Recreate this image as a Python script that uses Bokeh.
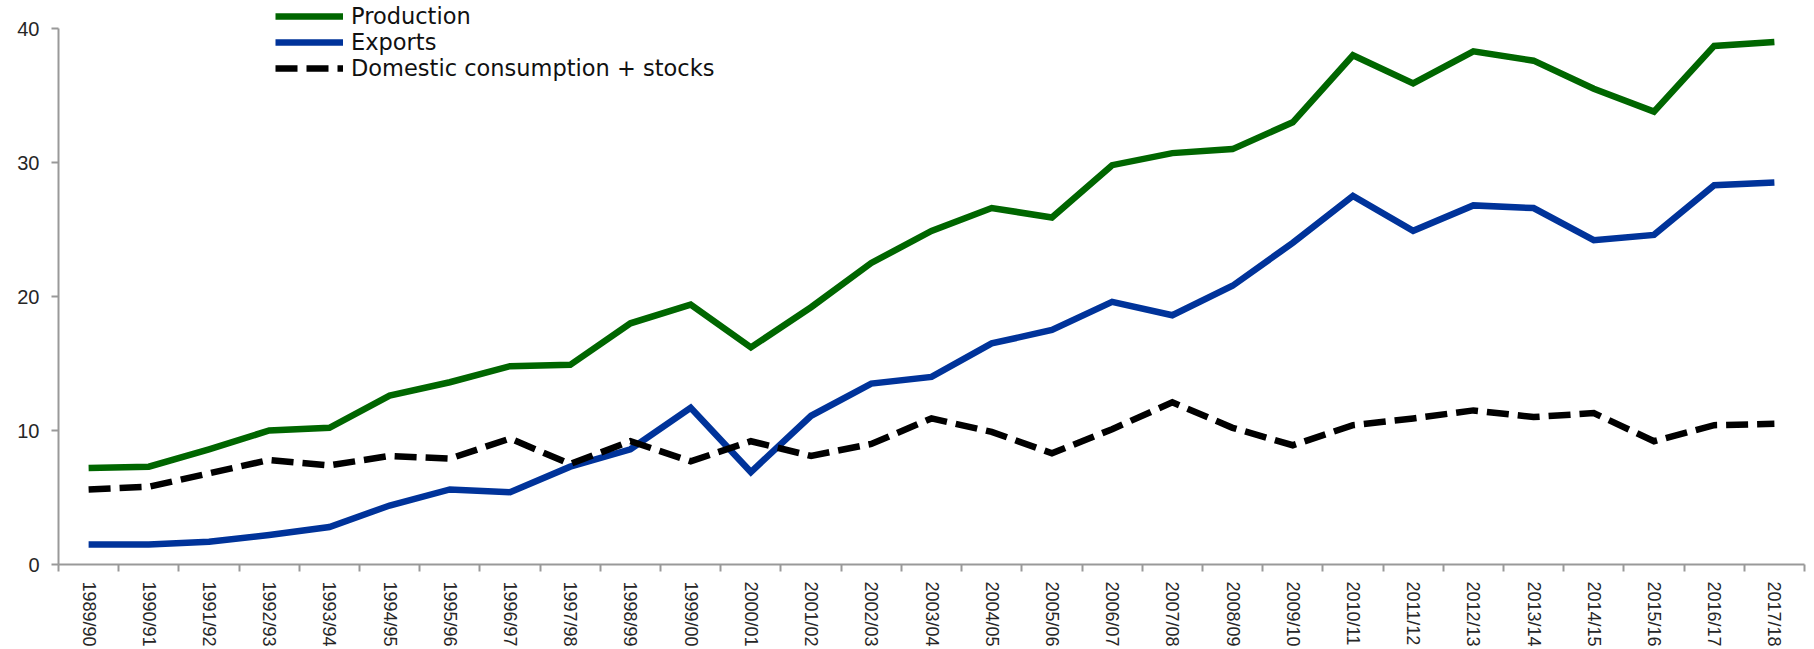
from bokeh.plotting import figure
from bokeh.models import FixedTicker, Legend, LegendItem, ColumnDataSource
from bokeh.embed import file_html
from bokeh.resources import INLINE

seasons = ["1989/90", "1990/91", "1991/92", "1992/93", "1993/94", "1994/95", "1995/96",
           "1996/97", "1997/98", "1998/99", "1999/00", "2000/01", "2001/02", "2002/03",
           "2003/04", "2004/05", "2005/06", "2006/07", "2007/08", "2008/09", "2009/10",
           "2010/11", "2011/12", "2012/13", "2013/14", "2014/15", "2015/16", "2016/17",
           "2017/18"]

production = [7.2, 7.3, 8.6, 10.0, 10.2, 12.6, 13.6, 14.8, 14.9, 18.0, 19.4, 16.2, 19.2, 22.5,
              24.9, 26.6, 25.9, 29.8, 30.7, 31.0, 33.0, 38.0, 35.9, 38.3, 37.6, 35.5, 33.8,
              38.7, 39.0]
exports = [1.5, 1.5, 1.7, 2.2, 2.8, 4.4, 5.6, 5.4, 7.3, 8.6, 11.7, 6.9, 11.1, 13.5,
           14.0, 16.5, 17.5, 19.6, 18.6, 20.8, 24.0, 27.5, 24.9, 26.8, 26.6, 24.2, 24.6,
           28.3, 28.5]
domestic = [5.6, 5.8, 6.8, 7.8, 7.4, 8.1, 7.9, 9.4, 7.5, 9.2, 7.7, 9.2, 8.1, 9.0,
            10.9, 9.9, 8.3, 10.1, 12.1, 10.2, 8.9, 10.4, 10.9, 11.5, 11.0, 11.3, 9.2,
            10.4, 10.5]

y_ticks = [0, 10, 20, 30, 40]

n = len(seasons)
xs = [i + 0.5 for i in range(n)]
src = ColumnDataSource(dict(x=xs, prod=production, exp=exports, dom=domestic))

p = figure(width=1814, height=649, x_range=(0, n), y_range=(0, 42.09),
           output_backend="svg", toolbar_location=None,
           min_border_left=58, min_border_right=10, min_border_top=0, min_border_bottom=85)
p.outline_line_color = None
p.grid.visible = False
p.background_fill_color = "white"

axis_col = "#999999"
tick_font = "Liberation Sans"
text_col = "#262626"

# x axis: labels centred on seasons, ticks on the boundaries between them
xa = p.xaxis[0]
xa.ticker = FixedTicker(ticks=xs, minor_ticks=list(range(n + 1)))
xa.major_label_overrides = {x: s for x, s in zip(xs, seasons)}
xa.major_label_orientation = "vertical"
xa.major_tick_out = 0
xa.major_tick_in = 0
xa.minor_tick_out = 7
xa.minor_tick_in = 0
xa.minor_tick_line_color = axis_col
xa.minor_tick_line_width = 2
xa.axis_line_color = axis_col
xa.axis_line_width = 2
xa.major_label_text_font = tick_font
xa.major_label_text_font_size = "18px"
xa.major_label_text_color = text_col
xa.major_label_standoff = 10

# y axis
ya = p.yaxis[0]
ya.ticker = FixedTicker(ticks=y_ticks)
ya.bounds = (0, 40)
ya.minor_tick_line_color = None
ya.major_tick_out = 7
ya.major_tick_in = 0
ya.major_tick_line_color = axis_col
ya.major_tick_line_width = 2
ya.axis_line_color = axis_col
ya.axis_line_width = 2
ya.major_label_text_font = tick_font
ya.major_label_text_font_size = "20px"
ya.major_label_text_color = text_col
ya.major_label_standoff = 12

r1 = p.line("x", "prod", source=src, line_color="#006600", line_width=6.5, line_join="miter")
r2 = p.line("x", "exp", source=src, line_color="#00339A", line_width=6.5, line_join="miter")
r3 = p.line("x", "dom", source=src, line_color="black", line_width=6.5, line_dash="22 9",
            line_join="miter")

legend = Legend(items=[LegendItem(label="Production", renderers=[r1]),
                       LegendItem(label="Exports", renderers=[r2]),
                       LegendItem(label="Domestic consumption + stocks", renderers=[r3])],
                location=(217, 483), orientation="vertical",
                glyph_width=68, glyph_height=24, label_height=24, spacing=0,
                padding=0, margin=0, label_standoff=8,
                label_text_font="DejaVu Sans", label_text_font_size="22.5px",
                label_text_color="#111111",
                border_line_color=None, background_fill_alpha=0)
p.add_layout(legend)

open("out.html", "w").write(file_html(p, INLINE))
